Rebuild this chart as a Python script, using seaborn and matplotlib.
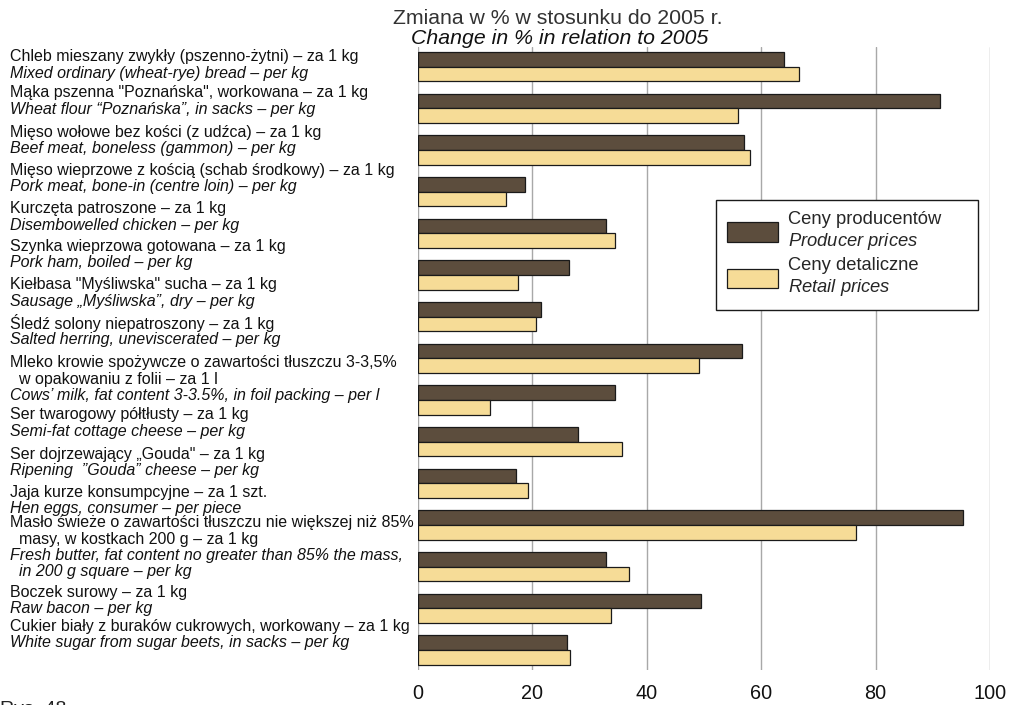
# -*- coding: utf-8 -*-
"""
Producer vs retail price change (% vs 2005), horizontal grouped bars
"""

import matplotlib
matplotlib.use("Agg")
import matplotlib.pyplot as plt
import seaborn as sns
import pandas as pd

sns.set_style("white")
plt.rcParams["font.family"] = ["Liberation Sans", "DejaVu Sans"]
plt.rcParams["mathtext.fontset"] = "custom"
plt.rcParams["mathtext.rm"] = "Liberation Sans"
plt.rcParams["mathtext.it"] = "Liberation Sans:italic"

palette = ["#5c4d3d", "#f6dc97"]

#%% Data
labels_pl = [
    "Chleb mieszany zwykły (pszenno-żytni) – za 1 kg",
    "Mąka pszenna \"Poznańska\", workowana – za 1 kg",
    "Mięso wołowe bez kości (z udźca) – za 1 kg",
    "Mięso wieprzowe z kością (schab środkowy) – za 1 kg",
    "Kurczęta patroszone – za 1 kg",
    "Szynka wieprzowa gotowana – za 1 kg",
    "Kiełbasa \"Myśliwska\" sucha – za 1 kg",
    "Śledź solony niepatroszony – za 1 kg",
    "Mleko krowie spożywcze o zawartości tłuszczu 3-3,5%\n  w opakowaniu z folii – za 1 l",
    "Ser twarogowy półtłusty – za 1 kg",
    "Ser dojrzewający „Gouda\" – za 1 kg",
    "Jaja kurze konsumpcyjne – za 1 szt.",
    "Masło świeże o zawartości tłuszczu nie większej niż 85%\n  masy, w kostkach 200 g – za 1 kg",
    "Boczek surowy – za 1 kg",
    "Cukier biały z buraków cukrowych, workowany – za 1 kg",
]
labels_en = [
    "Mixed ordinary (wheat-rye) bread – per kg",
    "Wheat flour “Poznańska”, in sacks – per kg",
    "Beef meat, boneless (gammon) – per kg",
    "Pork meat, bone-in (centre loin) – per kg",
    "Disembowelled chicken – per kg",
    "Pork ham, boiled – per kg",
    "Sausage „Myśliwska”, dry – per kg",
    "Salted herring, uneviscerated – per kg",
    "Cows’ milk, fat content 3-3.5%, in foil packing – per l",
    "Semi-fat cottage cheese – per kg",
    "Ripening  ”Gouda” cheese – per kg",
    "Hen eggs, consumer – per piece",
    "Fresh butter, fat content no greater than 85% the mass,\n  in 200 g square – per kg",
    "Raw bacon – per kg",
    "White sugar from sugar beets, in sacks – per kg",
]
producer = [63.9, 91.3, 57.0, 18.7, 32.8, 26.4, 21.5, 56.7, 34.5, 27.9, 17.2, 95.2, 32.9, 49.5, 26.1]
retail = [66.6, 55.9, 58.1, 15.3, 34.5, 17.5, 20.7, 49.2, 12.5, 35.7, 19.3, 76.5, 36.9, 33.7, 26.5]
series = ["Ceny producentów\n$\\it{Producer\\ prices}$",
          "Ceny detaliczne\n$\\it{Retail\\ prices}$"]
xticks = [0, 20, 40, 60, 80, 100]

cats = [str(i) for i in range(len(producer))]
df = pd.DataFrame({
    "cat": cats * 2,
    "value": producer + retail,
    "series": [series[0]] * len(producer) + [series[1]] * len(retail),
})

#%% Plot
W, H = 1010, 705
fig = plt.figure(figsize=(W / 100, H / 100), dpi=100)
ax = fig.add_axes([418 / W, 1 - 670 / H, (990 - 418) / W, (670 - 47) / H])

sns.barplot(df, y="cat", x="value", hue="series", order=cats,
            hue_order=series, palette=palette, orient="h", width=0.7,
            edgecolor="#1a1a1a", linewidth=0.9, saturation=1, ax=ax,
            zorder=3)

ax.set_xlim(0, 100)
ax.set_ylim(14.48, -0.47)
ax.set_xticks(xticks)
ax.set_xticklabels([str(t) for t in xticks], fontsize=14.3, color="#111111")
ax.tick_params(axis="x", length=0, pad=10)
ax.set_yticks([])
ax.set_xlabel("")
ax.set_ylabel("")
for s in ax.spines.values():
    s.set_visible(False)
ax.xaxis.grid(True, color="#a8a8a8", linewidth=1.0, zorder=0)
ax.set_axisbelow(True)

# legend, stretched to the reference box width
handles, lbls = ax.get_legend_handles_labels()
leg = ax.legend(handles, lbls, loc="upper left", mode="expand",
                bbox_to_anchor=(716 / W, 1 - 308 / H, 262 / W, 108 / H),
                bbox_transform=fig.transFigure,
                borderaxespad=0, fontsize=13.2, frameon=True, fancybox=False,
                framealpha=1, edgecolor="#1a1a1a", handlelength=2.8,
                handleheight=1.25, labelspacing=0.3, borderpad=0.6,
                handletextpad=0.55)
leg.get_frame().set_linewidth(1.0)
for t in leg.get_texts():
    t.set_linespacing(1.2)

# title
fig.text(558 / W, 1 - 19 / H, "Zmiana w % w stosunku do 2005 r.",
         ha="center", va="center", fontsize=15.3, color="#333333")
fig.text(560 / W, 1 - 38 / H, "Change in % in relation to 2005",
         ha="center", va="center", fontsize=15.3, style="italic", color="#111111")

# category labels (left column)
block_y = [57, 93, 132, 170, 209, 246, 285, 323, 363, 415, 454, 492, 523, 592, 626]
step = 16.3
for y0, pl, en in zip(block_y, labels_pl, labels_en):
    lines = [(l, "normal") for l in pl.split("\n")] + [(l, "italic") for l in en.split("\n")]
    for i, (txt, st) in enumerate(lines):
        fig.text(10 / W, 1 - (y0 + i * step) / H, txt, ha="left", va="center",
                 fontsize=11.5, style=st, color="#111111")

# figure number, cut by the lower edge as in the source page
fig.text(0, 1 - 701 / H, "Rys. 48", ha="left", va="top", fontsize=14,
         color="#222222")

fig.savefig("out.png", dpi=100)
